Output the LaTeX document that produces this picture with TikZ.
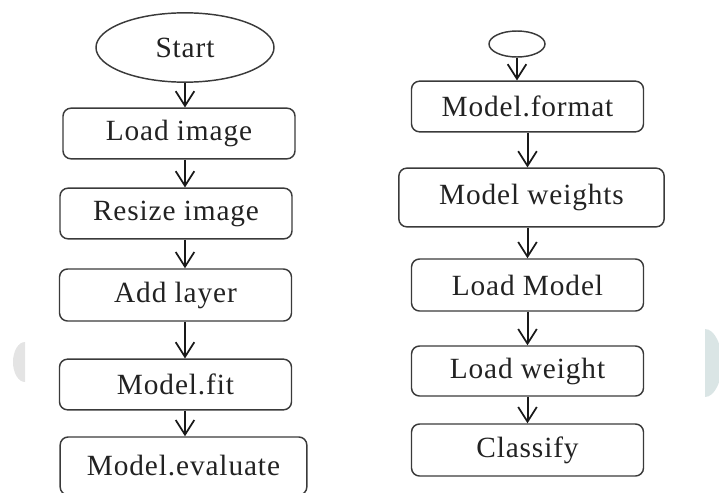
\documentclass[tikz,border=0pt]{standalone}
\usepackage{fontspec}
\setmainfont[LetterSpace=3]{Liberation Serif}
\usetikzlibrary{shapes.geometric,arrows.meta}

\definecolor{ramka}{HTML}{3A3A3A}
\definecolor{tekst}{HTML}{222222}
\definecolor{znaklewy}{HTML}{E4E4E4}
\definecolor{znakprawy}{HTML}{DAE5E5}

\tikzset{
  stepbox/.style={draw=ramka, line width=1.1pt, rounded corners=6pt,
    minimum width=174pt, minimum height=38pt, inner sep=0pt,
    text=tekst, font=\fontsize{22}{24}\selectfont},
  term/.style={draw=ramka, line width=1.1pt, ellipse, inner sep=0pt,
    text=tekst, font=\fontsize{22}{24}\selectfont},
  flow/.style={-{Straight Barb[length=11pt,width=14pt,line width=1.3pt]},
    line width=1.5pt, black!90}
}

\begin{document}
\begin{tikzpicture}[x=0.75pt,y=-0.75pt]
        \useasboundingbox (0,0) rectangle (719,493);

        % Znaki wodne
        \begin{scope}
          \clip (0,0) rectangle (25,493);
          \fill[znaklewy] (25,362) ellipse [x radius=12, y radius=20];
        \end{scope}
        \begin{scope}
          \clip (705,0) rectangle (719,493);
          \fill[znakprawy] (705,363) ellipse [x radius=17, y radius=34];
        \end{scope}

        % Lewa kolumna
        \node[term, minimum width=133.5pt, minimum height=52pt] (start) at (185,47.5) {Start};
        \node[stepbox] (load) at (179,133.5) {Load image};
        \node[stepbox] (resize) at (176,213.5) {Resize image};
        \node[stepbox, minimum height=39pt] (addl) at (175.5,295) {Add layer};
        \node[stepbox] (fit) at (175.5,384.5) {Model.fit};
        \node[stepbox, minimum width=185pt, minimum height=43.5pt] (eval) at (183.5,466) {Model.evaluate};

        % Prawa kolumna
        \node[term, minimum width=42pt, minimum height=19.5pt] (top) at (517,44) {};
        \node[stepbox] (fmt) at (527.5,106.5) {Model.format};
        \node[stepbox, minimum width=199pt, minimum height=44pt] (wts) at (531.5,197.5) {Model weights};
        \node[stepbox, minimum height=39pt] (lmodel) at (527.5,285) {Load Model};
        \node[stepbox, minimum height=37.5pt] (lweight) at (527.5,371) {Load weight};
        \node[stepbox, minimum height=39pt] (classify) at (527.5,450) {Classify};

        % Strzalki
        \draw[flow] (start.south) -- (start.south |- load.north);
        \foreach \a/\b in {load/resize, resize/addl, addl/fit, fit/eval}
          \draw[flow] (\a.south -| start) -- (\b.north -| start);
        \draw[flow] (top.south) -- (top.south |- fmt.north);
        \foreach \a/\b in {fmt/wts, wts/lmodel, lmodel/lweight, lweight/classify}
          \draw[flow] (\a.south -| fmt) -- (\b.north -| fmt);

    \end{tikzpicture}
\end{document}
